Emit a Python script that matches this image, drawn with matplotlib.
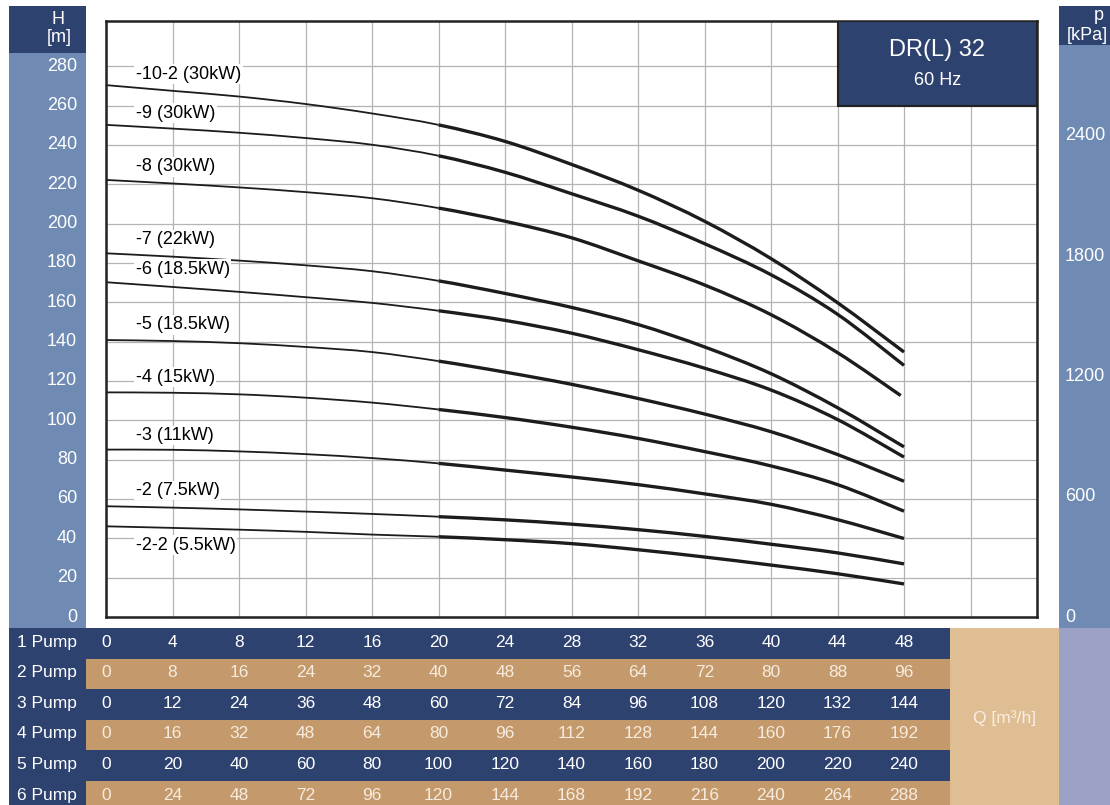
import matplotlib
matplotlib.use("Agg")
import matplotlib.pyplot as plt
from matplotlib.patches import Rectangle, PathPatch
from matplotlib.path import Path
from matplotlib.transforms import blended_transform_factory as blend

plt.rcParams['font.family'] = ['Liberation Sans', 'DejaVu Sans']

# flow points (1 pump, m3/h)
q = [0, 4, 8, 12, 16, 20, 24, 28, 32, 36, 40, 44, 48]
q_8 = [0, 4, 8, 12, 16, 20, 24, 28, 32, 36, 40, 44, 47.8]

# head curves [m]
h_10_2 = [270.4, 267.5, 264.6, 260.8, 256.0, 250.2, 241.8, 230.1, 217.0, 201.2, 182.2, 159.8, 134.7]
h_9 = [250.2, 248.3, 246.2, 243.5, 240.1, 234.5, 226.1, 215.2, 203.8, 189.8, 174.0, 153.9, 127.9]
h_8 = [222.2, 220.4, 218.4, 216.0, 212.9, 207.9, 201.2, 192.8, 181.1, 168.8, 153.7, 134.4, 112.6]
h_7 = [184.9, 183.2, 181.2, 178.8, 175.8, 170.9, 164.5, 157.4, 148.7, 137.3, 123.7, 106.4, 86.5]
h_6 = [170.2, 167.8, 165.3, 162.6, 159.7, 155.7, 150.8, 144.3, 135.9, 126.5, 115.4, 100.4, 81.3]
h_5 = [140.8, 140.3, 139.2, 137.3, 134.7, 130.1, 124.5, 118.3, 111.1, 103.2, 94.2, 82.6, 69.0]
h_4 = [114.2, 114.0, 113.2, 111.5, 109.0, 105.5, 101.4, 96.5, 90.8, 84.1, 76.8, 67.3, 53.8]
h_3 = [85.1, 85.0, 84.2, 82.8, 80.8, 78.1, 74.7, 71.2, 67.3, 62.6, 57.3, 49.5, 39.9]
h_2 = [56.3, 55.6, 54.7, 53.6, 52.4, 51.0, 49.4, 47.2, 44.4, 41.0, 37.0, 32.6, 27.0]
h_2_2 = [46.1, 45.3, 44.4, 43.3, 41.9, 40.8, 39.3, 37.3, 34.2, 30.5, 26.4, 22.0, 16.8]

curves = [
    ("-10-2 (30kW)", q, h_10_2, 5.5),
    ("-9 (30kW)", q, h_9, 6.0),
    ("-8 (30kW)", q_8, h_8, 6.8),
    ("-7 (22kW)", q, h_7, 7.0),
    ("-6 (18.5kW)", q, h_6, 6.5),
    ("-5 (18.5kW)", q, h_5, 7.8),
    ("-4 (15kW)", q, h_4, 7.6),
    ("-3 (11kW)", q, h_3, 7.2),
    ("-2 (7.5kW)", q, h_2, 8.0),
    ("-2-2 (5.5kW)", q, h_2_2, -9.7),
]

h_ticks = list(range(0, 281, 20))
p_ticks = [0, 600, 1200, 1800, 2400]
pump_counts = [1, 2, 3, 4, 5, 6]

NAVY = '#2e4270'
SIDE = '#6f8bb4'
TAN = '#c49a6c'
LTAN = '#e0be94'
LAV = '#9ba2c6'

W, H = 1110, 805
fig = plt.figure(figsize=(W / 100, H / 100), dpi=100)


def rect(x0, y0, x1, y1, color):
    # pixel box (top-left origin) -> figure fraction
    fig.patches.append(Rectangle((x0 / W, 1 - y1 / H), (x1 - x0) / W, (y1 - y0) / H,
                                 transform=fig.transFigure, color=color, lw=0, zorder=0))


def smooth_path(pts, a, b):
    # bezier segments through pts[a..b] (catmull-rom tangents)
    verts = [pts[a]]
    codes = [Path.MOVETO]
    n = len(pts)
    for i in range(a, b):
        p0 = pts[max(i - 1, 0)]
        p1 = pts[i]
        p2 = pts[i + 1]
        p3 = pts[min(i + 2, n - 1)]
        c1 = (p1[0] + (p2[0] - p0[0]) / 6, p1[1] + (p2[1] - p0[1]) / 6)
        c2 = (p2[0] - (p3[0] - p1[0]) / 6, p2[1] - (p3[1] - p1[1]) / 6)
        verts += [c1, c2, p2]
        codes += [Path.CURVE4] * 3
    return Path(verts, codes)


ax = fig.add_axes([106 / W, 1 - 617 / H, (1037 - 106) / W, (617 - 21) / H])
ax.set_xlim(0, 56)
ax.set_ylim(0, 303)
ax.set_xticks(range(0, 57, 4))
ax.set_yticks(h_ticks)
ax.tick_params(left=False, bottom=False, labelleft=False, labelbottom=False)
ax.grid(True, color='#b4b4b4', lw=0.9)
ax.set_axisbelow(True)
for s in ax.spines.values():
    s.set_linewidth(1.8)
    s.set_color('#222222')

# side bars
rect(9, 6, 86, 53, NAVY)
rect(9, 53, 86, 628, SIDE)
rect(1059, 6, 1110, 45, NAVY)
rect(1059, 45, 1110, 628, SIDE)

fig.text(58 / W, 1 - 20 / H, "H", color='white', fontsize=13, ha='center', va='center')
fig.text(59 / W, 1 - 37 / H, "[m]", color='white', fontsize=13, ha='center', va='center')
fig.text(1104 / W, 1 - 16 / H, "p", color='white', fontsize=13, ha='right', va='center')
fig.text(1108 / W, 1 - 36 / H, "[kPa]", color='white', fontsize=13, ha='right', va='center')

tl = blend(fig.transFigure, ax.transData)
for h in h_ticks:
    fig.text(77 / W, h, str(h), transform=tl, color='white', fontsize=13, ha='right', va='center')
for p in p_ticks:
    fig.text(1065 / W, p / 9.81, str(p), transform=tl, color='white', fontsize=13, ha='left', va='center')

# curves: thin up to 20 m3/h, thicker after
for name, xs, hs, dy in curves:
    pts = list(zip(xs, hs))
    i = xs.index(20)
    ax.add_patch(PathPatch(smooth_path(pts, 0, i), fill=False, edgecolor='#1c1c1c',
                           lw=1.3, capstyle='butt', zorder=3))
    ax.add_patch(PathPatch(smooth_path(pts, i, len(pts) - 1), fill=False, edgecolor='#1c1c1c',
                           lw=2.4, capstyle='butt', joinstyle='round', zorder=3))
    ax.text(1.8, hs[0] + dy, name, fontsize=13, ha='left', va='center', zorder=4,
            bbox=dict(facecolor='white', edgecolor='none', pad=1.0))

# model box
ax.add_patch(Rectangle((44, 260), 12, 43, facecolor=NAVY, edgecolor='#222222', lw=1.5, zorder=5))
ax.text(50, 288.3, "DR(L) 32", color='white', fontsize=17, ha='center', va='center', zorder=6)
ax.text(50, 273, "60 Hz", color='white', fontsize=13, ha='center', va='center', zorder=6)

# flow table
row_top, row_h = 628, 30.6
rect(950, row_top, 1059, H, LTAN)
rect(1059, row_top, 1110, H, LAV)
tt = blend(ax.transData, fig.transFigure)
for k, n in enumerate(pump_counts):
    y0 = row_top + k * row_h
    y1 = min(y0 + row_h, H)
    rect(9, y0, 950, y1, NAVY)
    if n % 2 == 0:
        rect(86, y0, 950, y1, TAN)
    yc = 1 - (y0 + 14) / H
    fig.text(77 / W, yc, f"{n} Pump", color='white', fontsize=12.5, ha='right', va='center')
    col = '#f6ebde' if n % 2 == 0 else 'white'
    for qv in q:
        fig.text(qv, yc, str(n * qv), transform=tt, color=col, fontsize=12.5,
                 ha='center', va='center')

fig.text(1005 / W, 1 - 718 / H, "Q [m³/h]", color='#f8efe4', fontsize=12.5, ha='center', va='center')

fig.savefig("out.png", dpi=100)
